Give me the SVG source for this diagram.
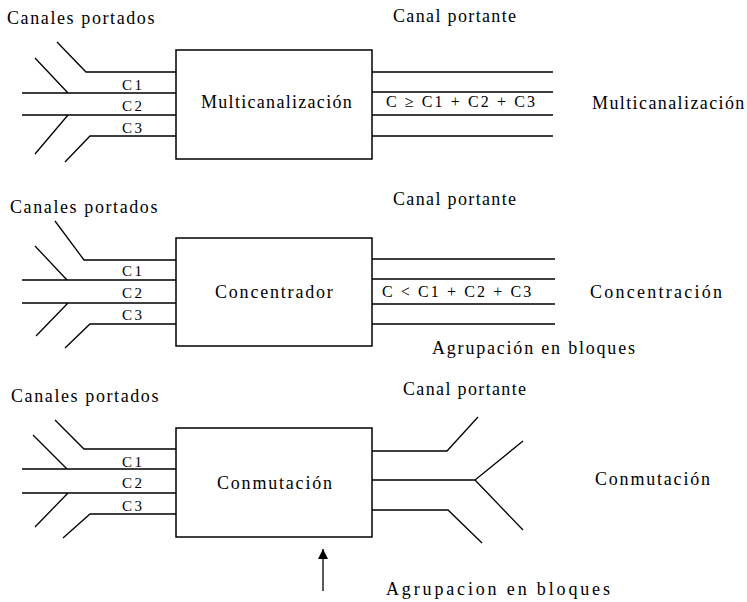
<svg xmlns="http://www.w3.org/2000/svg" width="747" height="602" viewBox="0 0 747 602">
<defs>
<style>
.box{fill:#fff;stroke:#000;stroke-width:1.5}
.ln{stroke:#000;stroke-width:1.3;fill:none}
</style>
<marker id="ah" viewBox="0 0 10 10" refX="10" refY="5" markerWidth="10" markerHeight="10" markerUnits="userSpaceOnUse" orient="auto">
<path d="M0,0 L10,5 L0,10 z" fill="#000"/>
</marker>
</defs>
<rect width="747" height="602" fill="#fff"/>

<g id="connectors">
<path class="ln" d="M57,42 L86,72 L176,72"/>
<path class="ln" d="M22,93 L176,93 M35,58 L68,93"/>
<path class="ln" d="M22,115 L176,115 M68,115 L35,154"/>
<path class="ln" d="M65,162 L90,136 L176,136"/>
<path class="ln" d="M372,72 L553,72 M372,92 L553,92 M372,115 L553,115 M372,136 L553,136"/>
<path class="ln" d="M55,221 L84,260 L176,260"/>
<path class="ln" d="M22,280 L176,280 M35,246 L67,280"/>
<path class="ln" d="M22,303 L176,303 M68,303 L36,336"/>
<path class="ln" d="M65,348 L90,324 L176,324"/>
<path class="ln" d="M372,259 L555,259 M372,279 L555,279 M372,304 L555,304 M372,324 L555,324"/>
<path class="ln" d="M55,420 L84,449 L176,449"/>
<path class="ln" d="M22,469 L176,469 M33,435 L67,469"/>
<path class="ln" d="M22,493 L176,493 M68,493 L35,527"/>
<path class="ln" d="M63,538 L90,514 L176,514"/>
<path class="ln" d="M372,451 L447,451 L478,417"/>
<path class="ln" d="M372,480 L475,480 M523,441 L475,480 L523,530"/>
<path class="ln" d="M372,510 L448,510 L482,543"/>
<line class="ln" x1="323" y1="591" x2="323" y2="549" marker-end="url(#ah)"/>
</g>

<g font-family="Liberation Serif" font-size="18" fill="#000">
<g id="box1">
<rect class="box" x="176" y="50" width="196" height="109"/>
<text x="201" y="108" letter-spacing="1.3">Multicanalización</text>
</g>
<g id="box2">
<rect class="box" x="176" y="238" width="196" height="108"/>
<text x="215" y="298" letter-spacing="1.8">Concentrador</text>
</g>
<g id="box3">
<rect class="box" x="176" y="428" width="196" height="109"/>
<text x="217" y="489" letter-spacing="1.8">Conmutación</text>
</g>

<g id="labels">
<text x="7" y="24" letter-spacing="1.6">Canales portados</text>
<text x="393" y="22" letter-spacing="1.35">Canal portante</text>
<text x="122" y="90" font-size="15" letter-spacing="2.5">C1</text>
<text x="122" y="111" font-size="15" letter-spacing="2.5">C2</text>
<text x="122" y="133" font-size="15" letter-spacing="2.5">C3</text>
<text x="386" y="107" font-size="16" letter-spacing="2.1">C ≥ C1 + C2 + C3</text>
<text x="592" y="109" letter-spacing="1.4">Multicanalización</text>

<text x="10" y="213" letter-spacing="1.6">Canales portados</text>
<text x="393" y="205" letter-spacing="1.35">Canal portante</text>
<text x="122" y="276" font-size="15" letter-spacing="2.5">C1</text>
<text x="122" y="298" font-size="15" letter-spacing="2.5">C2</text>
<text x="122" y="320" font-size="15" letter-spacing="2.5">C3</text>
<text x="382" y="297" font-size="16" letter-spacing="2.1">C &lt; C1 + C2 + C3</text>
<text x="590" y="298" letter-spacing="2.25">Concentración</text>
<text x="432" y="354" letter-spacing="1.8">Agrupación en bloques</text>

<text x="11" y="402" letter-spacing="1.6">Canales portados</text>
<text x="403" y="395" letter-spacing="1.35">Canal portante</text>
<text x="122" y="467" font-size="15" letter-spacing="2.5">C1</text>
<text x="122" y="488" font-size="15" letter-spacing="2.5">C2</text>
<text x="122" y="511" font-size="15" letter-spacing="2.5">C3</text>
<text x="595" y="485" letter-spacing="1.8">Conmutación</text>
<text x="386" y="595" letter-spacing="2.85">Agrupacion en bloques</text>
</g>
</g>
</svg>
